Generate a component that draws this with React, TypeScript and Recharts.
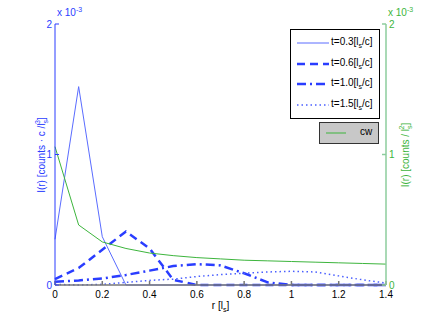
import { LineChart, Line, XAxis, YAxis, Legend } from "recharts";

// values in units of 1e-3
const R = [0, 0.1, 0.2, 0.3, 0.4, 0.5, 0.6, 0.7, 0.8, 0.9, 1.0, 1.1, 1.2, 1.3, 1.4];
const T03 = [0.35, 1.52, 0.37, 0, 0, 0, 0, 0, 0, 0, 0, 0, 0, 0, 0];
const T06 = [0.045, 0.13, 0.27, 0.41, 0.28, 0.04, 0, 0, 0, 0, 0, 0, 0, 0, 0];
const T10 = [0.025, 0.035, 0.05, 0.077, 0.11, 0.145, 0.16, 0.15, 0.09, 0.02, 0, 0, 0, 0, 0];
const T15 = [0.005, 0, 0.005, 0.02, 0.035, 0.045, 0.065, 0.08, 0.09, 0.1, 0.105, 0.1, 0.07, 0.04, 0.015];
const CW = [1.06, 0.46, 0.33, 0.28, 0.245, 0.225, 0.21, 0.2, 0.19, 0.185, 0.18, 0.175, 0.17, 0.165, 0.16];

const X_TICKS = [0, 0.2, 0.4, 0.6, 0.8, 1, 1.2, 1.4];
const Y_TICKS = [0, 1, 2];

const BLUE = "#2a3dff";
const GREEN = "#3db53d";
const FONT = '"Liberation Sans", Arial, Helvetica, sans-serif';

const SERIES = [
  { key: "t03", label: "0.3", color: "#5a6cff", width: 1, dash: undefined },
  { key: "t06", label: "0.6", color: BLUE, width: 2.5, dash: "8 5" },
  { key: "t10", label: "1.0", color: BLUE, width: 2.5, dash: "9 4 2 4" },
  { key: "t15", label: "1.5", color: "#4a5fff", width: 1.5, dash: "1.5 3" },
];

const data = R.map((r, i) => ({ r, t03: T03[i], t06: T06[i], t10: T10[i], t15: T15[i], cw: CW[i] }));

function LeftLabel({ viewBox }: any) {
  const cx = viewBox.x + 45;
  const cy = viewBox.y + 131;
  return (
    <text x={cx} y={cy} transform={`rotate(-90, ${cx}, ${cy})`} textAnchor="middle" fill={BLUE} fontSize={10} fontFamily={FONT}>
      I(r) [counts · c /l<tspan dy={3} fontSize={7}>s</tspan>
      <tspan dx={-4} dy={-8} fontSize={7}>3</tspan>
      <tspan dy={5}>]</tspan>
    </text>
  );
}

function RightLabel({ viewBox }: any) {
  const cx = viewBox.x + 23;
  const cy = viewBox.y + 131;
  return (
    <text x={cx} y={cy} transform={`rotate(-90, ${cx}, ${cy})`} textAnchor="middle" fill={GREEN} fontSize={10} fontFamily={FONT}>
      I(r) [counts / l<tspan dy={3} fontSize={7}>s</tspan>
      <tspan dx={-4} dy={-8} fontSize={7}>2</tspan>
      <tspan dy={5}>]</tspan>
    </text>
  );
}

function XLabel({ viewBox }: any) {
  const cx = viewBox.x + viewBox.width / 2;
  return (
    <text x={cx} y={viewBox.y + 24} textAnchor="middle" fill="#000" fontSize={10} fontFamily={FONT}>
      r [l<tspan dy={3} fontSize={7}>s</tspan>
      <tspan dy={-3}>]</tspan>
    </text>
  );
}

function LegendBoxes() {
  return (
    <div style={{ position: "relative", width: 90, height: 115, fontFamily: FONT, fontSize: 10 }}>
      <div style={{ position: "absolute", left: 0, top: 0, width: 88, height: 88, border: "1px solid #000", background: "#fff" }}>
        {SERIES.map((s, i) => (
          <div key={s.key} style={{ position: "absolute", left: 0, top: 4 + i * 20.5, height: 18, width: 88 }}>
            <svg width={36} height={18} style={{ position: "absolute", left: 5, top: 0 }}>
              <line x1={1} x2={33} y1={9} y2={9} stroke={s.color} strokeWidth={s.width} strokeDasharray={s.dash} />
            </svg>
            <span style={{ position: "absolute", left: 40, top: 2, whiteSpace: "nowrap" }}>
              t={s.label}[l<sub style={{ fontSize: 7 }}>s</sub>/c]
            </span>
          </div>
        ))}
      </div>
      <div style={{ position: "absolute", left: 29, top: 93, width: 58, height: 20, border: "1px solid #333", background: "#c8c8c8" }}>
        <svg width={24} height={20} style={{ position: "absolute", left: 6, top: 0 }}>
          <line x1={0} x2={20} y1={10} y2={10} stroke={GREEN} strokeWidth={1} />
        </svg>
        <span style={{ position: "absolute", left: 40, top: 3 }}>cw</span>
      </div>
    </div>
  );
}

export default function App() {
  return (
    <div style={{ position: "absolute", left: 0, top: 0, width: 426, height: 321, background: "#fff", fontFamily: FONT }}>
      <div style={{ position: "absolute", left: 57, top: 6, fontSize: 10, color: BLUE, whiteSpace: "nowrap" }}>
        x 10<sup style={{ fontSize: 7 }}>-3</sup>
      </div>
      <div style={{ position: "absolute", left: 388, top: 6, fontSize: 10, color: GREEN, whiteSpace: "nowrap" }}>
        x 10<sup style={{ fontSize: 7 }}>-3</sup>
      </div>
      <LineChart width={426} height={321} data={data} margin={{ top: 24, right: 0, bottom: 0, left: 0 }}>
        <XAxis
          xAxisId="b"
          dataKey="r"
          type="number"
          domain={[0, 1.4]}
          ticks={X_TICKS}
          tickFormatter={(v: number) => (v === 0 || v === 1 ? String(v) : v.toFixed(1))}
          height={36}
          stroke="#777"
          strokeWidth={1.5}
          tickSize={-4}
          tickMargin={10}
          tick={{ fill: "#000", fontSize: 10, fontFamily: FONT }}
          label={<XLabel />}
        />
        <XAxis
          xAxisId="t"
          orientation="top"
          dataKey="r"
          type="number"
          domain={[0, 1.4]}
          ticks={X_TICKS}
          height={0}
          stroke="#888"
          tickSize={-4}
          tick={false}
        />
        <YAxis
          yAxisId="l"
          domain={[0, 2]}
          ticks={Y_TICKS}
          width={55}
          stroke={BLUE}
          tickSize={-4}
          tickMargin={7}
          tick={{ fill: BLUE, fontSize: 10, fontFamily: FONT }}
          label={<LeftLabel />}
        />
        <YAxis
          yAxisId="r"
          orientation="right"
          domain={[0, 2]}
          ticks={Y_TICKS}
          width={40}
          stroke="#8ccc9c"
          strokeWidth={1.5}
          tickSize={-4}
          tickMargin={7}
          tick={{ fill: GREEN, fontSize: 10, fontFamily: FONT }}
          label={<RightLabel />}
        />
        {SERIES.map((s) => (
          <Line
            key={s.key}
            xAxisId="b"
            yAxisId="l"
            type="linear"
            dataKey={s.key}
            stroke={s.color}
            strokeWidth={s.width}
            strokeDasharray={s.dash}
            dot={false}
            isAnimationActive={false}
          />
        ))}
        <Line
          xAxisId="b"
          yAxisId="r"
          type="linear"
          dataKey="cw"
          stroke={GREEN}
          strokeWidth={1}
          dot={false}
          isAnimationActive={false}
        />
        <Legend
          layout="horizontal"
          verticalAlign="middle"
          align="center"
          content={() => <LegendBoxes />}
          wrapperStyle={{ position: "absolute", left: 290, top: 29, width: 90, height: 115 }}
        />
      </LineChart>
    </div>
  );
}
